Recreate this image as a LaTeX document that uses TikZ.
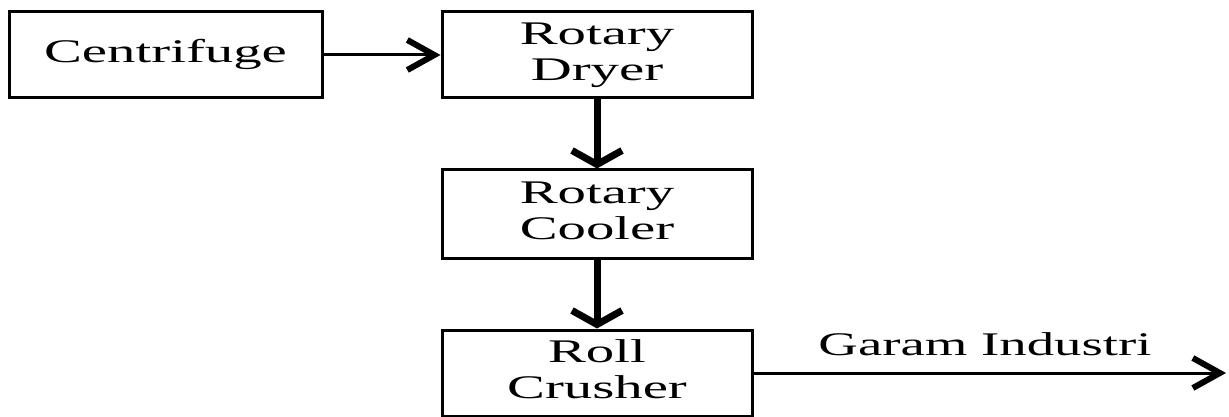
\documentclass[tikz,border=0pt]{standalone}
\usepackage{fontspec}
\setmainfont{Liberation Serif}
\usetikzlibrary{arrows.meta}
% wide, letter-stretched caption text
\newcommand\widetext[1]{\scalebox{1.72}[1]{\begin{tabular}{@{}c@{}}#1\end{tabular}}}
\begin{document}
\begin{tikzpicture}[x=1pt,y=-1pt,
  unit/.style={draw, line width=3pt, minimum width=310pt, minimum height=86pt,
    inner sep=0pt, font=\fontsize{33}{36}\selectfont},
  flowh/.style={line width=3pt, -{Straight Barb[length=27pt,width=30pt,line width=6pt]}},
  flowv/.style={line width=7pt, -{Straight Barb[length=14pt,width=50pt,line width=7pt]}},
  lbl/.style={font=\fontsize{33}{36}\selectfont, inner sep=0pt}]
  \useasboundingbox (0,0) rectangle (1229,417);
  \node[unit, minimum width=313pt] (cf) at (165.5,55) {\widetext{Centrifuge}};
  \node[unit] (rd) at (597,55) {\widetext{Rotary\\Dryer}};
  \node[unit, minimum height=88pt] (rc) at (597,214) {\widetext{Rotary\\Cooler}};
  \node[unit] (cr) at (597,373) {\widetext{Roll\\Crusher}};
  \coordinate (out) at (1226,373);
  \draw[flowh] (cf) -- (rd);
  \draw[flowv] (rd) -- (rc);
  \draw[flowv] (rc) -- (cr);
  \draw[flowh] (cr) -- node[lbl, pos=0.49, anchor=base, yshift=18pt] {\scalebox{1.66}[1]{Garam Industri}} (out);
\end{tikzpicture}
\end{document}
